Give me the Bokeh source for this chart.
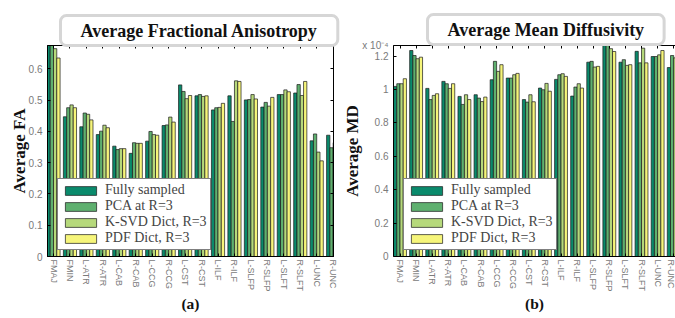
import numpy as np
from bokeh.plotting import figure
from bokeh.models import (FixedTicker, LinearAxis, Legend, LegendItem, Range1d, Title)
from bokeh.layouts import row
from bokeh.embed import file_html
from bokeh.resources import INLINE

tracts = ["FMAJ", "FMIN", "L-ATR", "R-ATR", "L-CAB", "R-CAB", "L-CCG", "R-CCG", "L-CST",
          "R-CST", "L-ILF", "R-ILF", "L-SLFP", "R-SLFP", "L-SLFT", "R-SLFT", "L-UNC", "R-UNC"]
series = ["Fully sampled", "PCA at R=3", "K-SVD Dict, R=3", "PDF Dict, R=3"]
colors = ["#0a8a6c", "#5fb06f", "#b6d97b", "#f6f57a"]

# Average FA
fa_full = [0.69, 0.447, 0.415, 0.390, 0.353, 0.330, 0.369, 0.419, 0.549, 0.514, 0.469, 0.514, 0.501, 0.478, 0.518, 0.523, 0.370, 0.388]
fa_pca  = [0.69, 0.476, 0.459, 0.401, 0.342, 0.364, 0.400, 0.421, 0.528, 0.518, 0.476, 0.432, 0.502, 0.493, 0.518, 0.550, 0.392, 0.348]
fa_ksvd = [0.665, 0.485, 0.455, 0.420, 0.345, 0.362, 0.390, 0.446, 0.505, 0.512, 0.477, 0.562, 0.518, 0.481, 0.533, 0.515, 0.334, 0.364]
fa_pdf  = [0.635, 0.476, 0.437, 0.412, 0.345, 0.362, 0.388, 0.430, 0.515, 0.514, 0.490, 0.560, 0.504, 0.509, 0.527, 0.560, 0.306, 0.341]

# Average MD, in units of 1e-4
md_full = [1.019, 1.234, 1.007, 1.049, 0.959, 0.969, 1.059, 1.069, 0.940, 1.009, 1.061, 0.961, 1.164, 1.280, 1.164, 1.229, 1.198, 1.132]
md_pca  = [1.035, 1.204, 0.940, 1.035, 0.911, 0.949, 1.169, 1.069, 0.925, 0.999, 1.089, 1.015, 1.169, 1.280, 1.179, 1.160, 1.198, 1.204]
md_ksvd = [1.035, 1.185, 0.965, 1.007, 0.969, 0.928, 1.109, 1.089, 0.969, 1.037, 1.095, 1.035, 1.135, 1.245, 1.145, 1.248, 1.208, 1.190]
md_pdf  = [1.065, 1.194, 0.975, 1.035, 0.940, 0.955, 1.149, 1.097, 0.927, 0.990, 1.079, 1.009, 1.139, 1.228, 1.149, 1.160, 1.234, 1.215]

fa_ticks = [0, 0.1, 0.2, 0.3, 0.4, 0.5, 0.6]
md_ticks = [0, 0.2, 0.4, 0.6, 0.8, 1, 1.2]
md_top = 1.262          # tick at the top of the MD axis that carries the exponent
md_exponent = "x 10\u207b\u2074"

SERIF = "Liberation Serif"
SANS = "Liberation Sans"
offsets = [-0.3, -0.1, 0.1, 0.3]
xpos = np.arange(1, len(tracts) + 1)


def blank_axis(ticks):
    return LinearAxis(ticker=FixedTicker(ticks=list(ticks)),
                      major_label_overrides={t: "" for t in ticks},
                      major_label_text_color=None, major_label_text_font_size="10px",
                      major_tick_in=3, major_tick_out=0, minor_tick_line_color=None,
                      major_label_standoff=0, axis_line_color="black")


def make_panel(data, yticks, yover, width, xr, yr, bl, br, bt, bb, right_axis,
               caption, ylabel, title, title_offset, title_standoff):
    p = figure(width=width, height=318, x_range=Range1d(*xr), y_range=Range1d(*yr),
               output_backend="svg", toolbar_location=None,
               min_border_left=bl, min_border_right=br, min_border_top=bt, min_border_bottom=bb)
    p.title = Title(text=title, align="left", offset=title_offset, standoff=title_standoff,
                    text_font=SERIF, text_font_style="bold", text_font_size="18px",
                    text_color="#111111", background_fill_color="white",
                    border_line_color="#d6d6d6", border_line_width=3,
                    border_radius=6, padding=(20, 5))
    p.grid.visible = False
    p.outline_line_color = "black" if right_axis else None
    p.background_fill_color = "white"
    p.border_fill_color = "white"
    items = []
    for vals, off, col, name in zip(data, offsets, colors, series):
        r = p.vbar(x=xpos + off, top=vals, width=0.2, bottom=0, fill_color=col,
                   line_color="#1a1a1a", line_width=0.7)
        items.append(LegendItem(label=name, renderers=[r]))
    xa = p.xaxis[0]
    xa.ticker = FixedTicker(ticks=list(xpos))
    xa.major_label_overrides = {int(i): t for i, t in zip(xpos, tracts)}
    xa.major_label_orientation = "vertical"
    xa.major_tick_in = 3
    xa.major_tick_out = 0
    xa.minor_tick_line_color = None
    xa.major_label_standoff = 3
    xa.axis_label = caption
    xa.axis_label_standoff = 0
    ya = p.yaxis[0]
    ya.ticker = FixedTicker(ticks=yticks)
    ya.major_label_overrides = yover
    ya.major_tick_in = 3
    ya.major_tick_out = 0
    ya.minor_tick_line_color = None
    ya.major_label_standoff = 5
    ya.axis_label = ylabel
    ya.axis_label_standoff = -3
    for ax in (xa, ya):
        ax.major_label_text_font = SANS
        ax.major_label_text_color = "#7a7a7a"
        ax.axis_line_color = "black"
        ax.major_tick_line_color = "black"
        ax.axis_label_text_font = SERIF
        ax.axis_label_text_font_style = "bold"
        ax.axis_label_text_color = "#111111"
    xa.major_label_text_font_size = "9px"
    ya.major_label_text_font_size = "10px"
    xa.axis_label_text_font_size = "15.5px"
    ya.axis_label_text_font_size = "17px"
    p.add_layout(blank_axis(xpos.tolist()), "above")
    if right_axis:
        p.add_layout(blank_axis(yticks), "right")
    leg = Legend(items=items, location=(10, 6), label_text_font=SERIF,
                 label_text_font_size="14px", glyph_width=39, glyph_height=11,
                 label_standoff=5, padding=3, spacing=0, margin=0, label_height=12,
                 border_line_color="black", border_line_width=1,
                 background_fill_color="white", background_fill_alpha=1)
    p.add_layout(leg)
    return p


p1 = make_panel([fa_full, fa_pca, fa_ksvd, fa_pdf], fa_ticks, {0: "0"}, 340,
                (0.635, 18.02), (0, 0.675), 47, 7, 43, 62, True, "(a)", "Average FA",
                "Average Fractional Anisotropy", 13, 0)
md_labels = {0: "0", 1: "1", md_top: md_exponent}
p2 = make_panel([md_full, md_pca, md_ksvd, md_pdf], md_ticks + [md_top], md_labels, 335,
                (0.596, 18.11), (0, 1.264), 44, 0, 45, 62, False, "(b)", "Average MD",
                "Average Mean Diffusivity", 34, 2)

layout = row(p1, p2, spacing=0)
open("out.html", "w").write(file_html(layout, INLINE))
